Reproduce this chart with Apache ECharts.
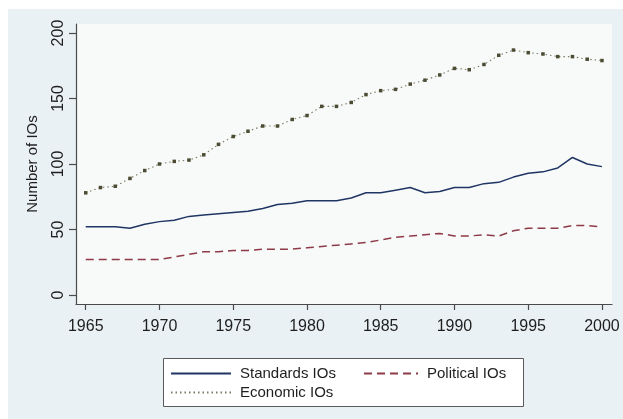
<!DOCTYPE html>
<html>
<head>
<meta charset="utf-8">
<script src="https://cdn.jsdelivr.net/npm/echarts@6/dist/echarts.min.js"></script>
<style>
  html, body { margin: 0; padding: 0; background: #ffffff; }
  #chart { width: 623px; height: 419px; }
</style>
</head>
<body>
<div id="chart"></div>
<script>
// Number of international organisations by type, 1965-2000
const years = [1965,1966,1967,1968,1969,1970,1971,1972,1973,1974,1975,1976,1977,1978,1979,1980,1981,1982,1983,1984,1985,1986,1987,1988,1989,1990,1991,1992,1993,1994,1995,1996,1997,1998,1999,2000];
const standardsIOs = [52,52,52,51,54,56,57,60,61,62,63,64,66,69,70,72,72,72,74,78,78,80,82,78,79,82,82,85,86,90,93,94,97,105,100,98];
const politicalIOs = [27,27,27,27,27,27,29,31,33,33,34,34,35,35,35,36,37,38,39,40,42,44,45,46,47,45,45,46,45,49,51,51,51,53,53,52];
const economicIOs = [78,82,83,89,95,100,102,103,107,115,121,125,129,129,134,137,144,144,147,153,156,157,161,164,168,173,172,176,183,187,185,184,182,182,180,179];
const xTicks = [1965,1970,1975,1980,1985,1990,1995,2000];
const yTicks = [0,50,100,150,200];

const pairs = (ys) => years.map((y, i) => [y, ys[i]]);

const FONT = '"Liberation Sans", Arial, sans-serif';
const AXIS_COLOR = '#4a4a4a';
const TEXT_COLOR = '#1e1e1e';

const chart = echarts.init(document.getElementById('chart'), null, { renderer: 'canvas' });

// one legend block per entry so the two-column key can be laid out freely
function legendAt(name, left, top, width) {
  return {
    data: [name],
    left: left,
    top: top,
    padding: 0,
    itemWidth: width,
    itemHeight: 14,
    itemGap: 0,
    selectedMode: false,
    itemStyle: { opacity: 0 },
    textStyle: { fontFamily: FONT, fontSize: 15, color: TEXT_COLOR, padding: [0, 0, 0, 4] }
  };
}

chart.setOption({
  animation: false,
  backgroundColor: '#ffffff',
  graphic: [
    {
      type: 'rect',
      z: -10,
      silent: true,
      shape: { x: 8, y: 9, width: 615, height: 410 },
      style: { fill: '#eaf1f4' }
    },
    {
      type: 'rect',
      z: -5,
      silent: true,
      shape: { x: 163.5, y: 358.5, width: 360, height: 48 },
      style: { fill: '#ffffff', stroke: '#5a5a5a', lineWidth: 1 }
    }
  ],
  grid: {
    left: 76,
    top: 24,
    width: 536,
    height: 280,
    show: true,
    backgroundColor: '#f8f9f9',
    borderWidth: 0
  },
  legend: [
    legendAt('Standards IOs', 170, 366, 60),
    legendAt('Political IOs', 363, 366, 54),
    legendAt('Economic IOs', 170, 385, 60)
  ],
  xAxis: {
    type: 'value',
    min: 1964.34,
    max: 2000.68,
    splitLine: { show: false },
    axisLine: { show: true, onZero: false, lineStyle: { color: AXIS_COLOR, width: 1.2 } },
    axisTick: { show: true, length: 6, customValues: xTicks, lineStyle: { color: AXIS_COLOR, width: 1.2 } },
    axisLabel: {
      customValues: xTicks,
      margin: 15,
      fontFamily: FONT,
      fontSize: 16,
      color: TEXT_COLOR,
      formatter: (v) => String(v)
    }
  },
  yAxis: {
    type: 'value',
    min: -6.9,
    max: 206.9,
    name: 'Number of IOs',
    nameLocation: 'middle',
    nameGap: 36,
    nameTextStyle: { fontFamily: FONT, fontSize: 15, color: TEXT_COLOR },
    splitLine: { show: false },
    axisLine: { show: true, onZero: false, lineStyle: { color: AXIS_COLOR, width: 1.2 } },
    axisTick: { show: true, length: 7, customValues: yTicks, lineStyle: { color: AXIS_COLOR, width: 1.2 } },
    axisLabel: {
      customValues: yTicks,
      rotate: 90,
      margin: 9,
      fontFamily: FONT,
      fontSize: 16,
      color: TEXT_COLOR,
      formatter: (v) => String(v)
    }
  },
  series: [
    {
      name: 'Standards IOs',
      type: 'line',
      data: pairs(standardsIOs),
      showSymbol: false,
      symbol: 'none',
      lineStyle: { color: '#1f3563', width: 1.5 },
      itemStyle: { color: '#1f3563' },
      z: 3
    },
    {
      name: 'Political IOs',
      type: 'line',
      data: pairs(politicalIOs),
      showSymbol: false,
      symbol: 'none',
      lineStyle: { color: '#8e3a48', width: 1.5, type: [8, 5] },
      itemStyle: { color: '#8e3a48' },
      z: 3
    },
    {
      name: 'Economic IOs',
      type: 'line',
      data: pairs(economicIOs),
      symbol: 'rect',
      symbolSize: 3.5,
      showSymbol: true,
      lineStyle: { color: '#7d7d66', width: 1.1, type: [1.5, 3] },
      itemStyle: { color: '#4c4c34' },
      z: 3
    }
  ]
});
</script>
</body>
</html>
